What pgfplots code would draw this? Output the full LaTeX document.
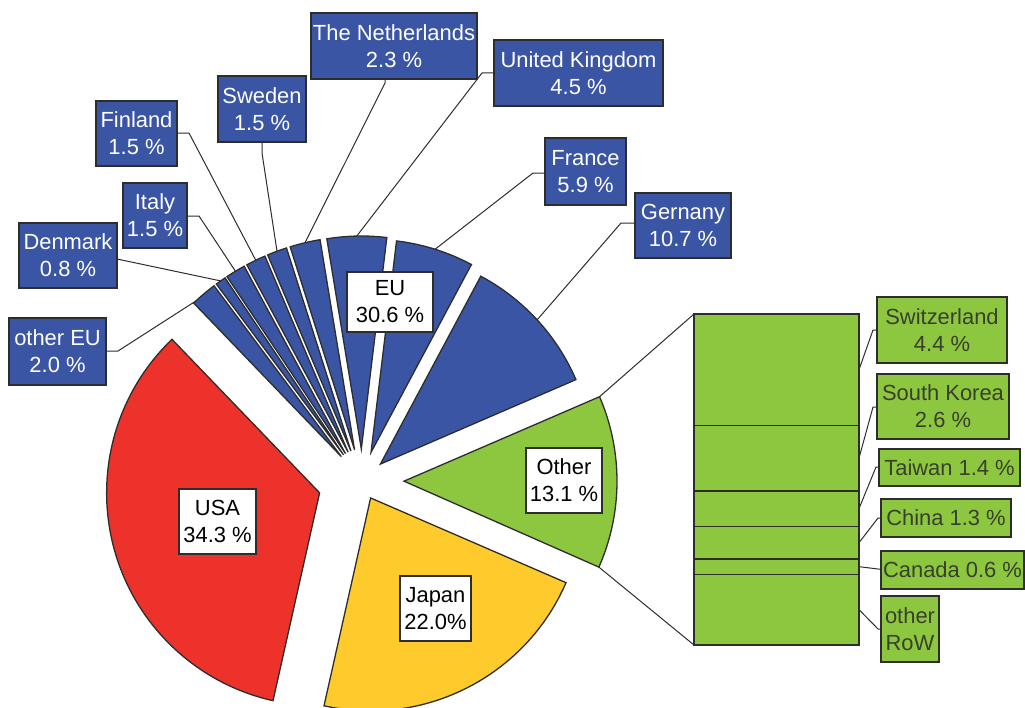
\documentclass[border=0pt]{standalone}
\usepackage{pgfplots}
\pgfplotsset{compat=1.18}
\usepackage{fontspec}
\setmainfont{Liberation Sans}

\definecolor{eublue}{RGB}{58,85,164}
\definecolor{usared}{RGB}{236,50,43}
\definecolor{jpyellow}{RGB}{255,202,44}
\definecolor{othgreen}{RGB}{141,198,63}
\definecolor{edge}{RGB}{45,45,45}
\definecolor{greentext}{RGB}{55,64,45}

% shares in percent
\def\pUSA{34.3}\def\pJapan{22.0}\def\pOther{13.1}
\def\pGer{10.7}\def\pFra{5.9}\def\pUK{4.5}\def\pNL{2.3}\def\pSwe{1.5}
\def\pFin{1.5}\def\pIta{1.5}\def\pDen{0.8}\def\pOEU{2.0}
\def\pSui{4.4}\def\pKor{2.6}\def\pTwn{1.4}\def\pChn{1.3}\def\pCan{0.6}\def\pRoW{2.8}

% pie centre (axis units = pixels), radius
\def\cx{362}\def\cy{481}\def\rr{213}\def\R{106.5bp}

% slice: start angle, end angle, explode, colour
\newcommand\slice[4]{%
  \draw[fill=#4, draw=edge, line width=0.65bp]
    (axis cs:{\cx+#3*cos((#1+#2)/2)},{\cy-#3*sin((#1+#2)/2)})
    -- ++(#1:\R) arc[start angle=#1, end angle=#2, radius=\R] -- cycle;}
% point on the rim of a slice: name, start, end, explode, angle
\newcommand\rim[5]{%
  \coordinate (#1) at (axis cs:{\cx+#4*cos((#2+#3)/2)+\rr*cos(#5)},{\cy-#4*sin((#2+#3)/2)-\rr*sin(#5)});}

\tikzset{
  eulab/.style={draw=edge, line width=0.65bp, fill=eublue, text=white,
    align=center, inner sep=0pt, font=\fontsize{11}{13.5}\selectfont},
  grlab/.style={eulab, fill=othgreen, text=greentext},
  inlab/.style={eulab, fill=white, text=black},
  lead/.style={draw=edge, line width=0.5bp},
}

\begin{document}
\begin{tikzpicture}
\pgfmathsetmacro\aA{-23.8}
\pgfmathsetmacro\aB{\aA+3.6*\pOther}
\pgfmathsetmacro\aC{\aB+3.6*\pGer}
\pgfmathsetmacro\aD{\aC+3.6*\pFra}
\pgfmathsetmacro\aE{\aD+3.6*\pUK}
\pgfmathsetmacro\aF{\aE+3.6*\pNL}
\pgfmathsetmacro\aG{\aF+3.6*\pSwe}
\pgfmathsetmacro\aH{\aG+3.6*\pFin}
\pgfmathsetmacro\aI{\aH+3.6*\pIta}
\pgfmathsetmacro\aJ{\aI+3.6*\pDen}
\pgfmathsetmacro\aK{\aJ+3.6*\pOEU}
\pgfmathsetmacro\aL{\aK+3.6*\pUSA}
\pgfmathsetmacro\aM{\aL+3.6*\pJapan}
% stacked bar for "Other"
\pgfmathsetmacro\k{(645-314)/\pOther}
\pgfmathsetmacro\yA{314}
\pgfmathsetmacro\yB{\yA+\k*\pSui}
\pgfmathsetmacro\yC{\yB+\k*\pKor}
\pgfmathsetmacro\yD{\yC+\k*\pTwn}
\pgfmathsetmacro\yE{\yD+\k*\pChn}
\pgfmathsetmacro\yF{\yE+\k*\pCan}
\pgfmathsetmacro\yG{\yF+\k*\pRoW}
\begin{axis}[
    x=0.5bp, y=0.5bp,
    xmin=0, xmax=1025, ymin=0, ymax=707,
    y dir=reverse,
    enlargelimits=false,
    hide axis,
    xtick=\empty, ytick=\empty,
    clip=false,
  ]
  \addplot[draw=none, forget plot] coordinates {(0,0) (1025,707)};

  % rim points for leaders
  \rim{pGer}{\aB}{\aC}{25}{(\aB+\aC)/2}
  \rim{pFra}{\aC}{\aD}{30}{(\aC+\aD)/2}
  \rim{pUK}{\aD}{\aE}{32}{(\aD+\aE)/2}
  \rim{pNL}{\aE}{\aF}{32}{(\aE+\aF)/2}
  \rim{pSwe}{\aF}{\aG}{32}{(\aF+\aG)/2}
  \rim{pFin}{\aG}{\aH}{32}{(\aG+\aH)/2}
  \rim{pIta}{\aH}{\aI}{32}{(\aH+\aI)/2}
  \rim{pDen}{\aI}{\aJ}{32}{(\aI+\aJ)/2}
  \rim{pOEU}{\aJ}{\aK}{32}{\aK-0.8}
  \rim{oTop}{\aA}{\aB}{42}{\aB}
  \rim{oBot}{\aA}{\aB}{42}{\aA}

  % leaders
  \draw[lead] (axis cs:385,79) -- (axis cs:385,83) -- (pNL);
  \draw[lead] (axis cs:494,73) -- (axis cs:482,73) -- (pUK);
  \draw[lead] (axis cs:262,142) -- (axis cs:262,153) -- (pSwe);
  \draw[lead] (axis cs:177,133) -- (axis cs:189,133) -- (pFin);
  \draw[lead] (axis cs:187,216) -- (axis cs:199,216) -- (pIta);
  \draw[lead] (axis cs:117,259) -- (pDen);
  \draw[lead] (axis cs:106,351) -- (axis cs:118,351) -- (pOEU);
  \draw[lead] (axis cs:545,173) -- (axis cs:533,173) -- (pFra);
  \draw[lead] (axis cs:635,223) -- (axis cs:621,223) -- (pGer);
  \draw[lead] (oTop) -- (axis cs:694,314);
  \draw[lead] (oBot) -- (axis cs:694,645);

  % pie
  \slice{\aA}{\aB}{42}{othgreen}
  \slice{\aB}{\aC}{25}{eublue}
  \slice{\aC}{\aD}{30}{eublue}
  \slice{\aD}{\aE}{32}{eublue}
  \slice{\aE}{\aF}{32}{eublue}
  \slice{\aF}{\aG}{32}{eublue}
  \slice{\aG}{\aH}{32}{eublue}
  \slice{\aH}{\aI}{32}{eublue}
  \slice{\aI}{\aJ}{32}{eublue}
  \slice{\aJ}{\aK}{32}{eublue}
  \slice{\aK}{\aL}{44}{usared}
  \slice{\aL}{\aM}{19}{jpyellow}

  % bar of "Other"
  \draw[fill=othgreen, draw=edge, line width=0.65bp] (axis cs:694,\yA) rectangle (axis cs:859,\yB);
  \draw[fill=othgreen, draw=edge, line width=0.65bp] (axis cs:694,\yB) rectangle (axis cs:859,\yC);
  \draw[fill=othgreen, draw=edge, line width=0.65bp] (axis cs:694,\yC) rectangle (axis cs:859,\yD);
  \draw[fill=othgreen, draw=edge, line width=0.65bp] (axis cs:694,\yD) rectangle (axis cs:859,\yE);
  \draw[fill=othgreen, draw=edge, line width=0.65bp] (axis cs:694,\yE) rectangle (axis cs:859,\yF);
  \draw[fill=othgreen, draw=edge, line width=0.65bp] (axis cs:694,\yF) rectangle (axis cs:859,\yG);

  \draw[lead] (axis cs:859,{(\yA+\yB)/2}) -- (axis cs:873,330) -- (axis cs:877,330);
  \draw[lead] (axis cs:859,{(\yB+\yC)/2}) -- (axis cs:873,407) -- (axis cs:877,407);
  \draw[lead] (axis cs:859,{(\yC+\yD)/2}) -- (axis cs:876,467) -- (axis cs:879,467);
  \draw[lead] (axis cs:859,{(\yD+\yE)/2}) -- (axis cs:878,518) -- (axis cs:881,518);
  \draw[lead] (axis cs:859,{(\yE+\yF)/2}) -- (axis cs:878,569) -- (axis cs:881,569);
  \draw[lead] (axis cs:859,{(\yF+\yG)/2}) -- (axis cs:878,629) -- (axis cs:881,629);

  % EU labels
  \node[eulab, minimum width=83bp, minimum height=33bp] at (axis cs:394,46) {The Netherlands\\2.3 \%};
  \node[eulab, minimum width=84.5bp, minimum height=33bp] at (axis cs:578.5,73) {United Kingdom\\4.5 \%};
  \node[eulab, minimum width=44bp, minimum height=33bp] at (axis cs:262,109) {Sweden\\1.5 \%};
  \node[eulab, minimum width=40.5bp, minimum height=32.5bp] at (axis cs:136.5,133.5) {Finland\\1.5 \%};
  \node[eulab, minimum width=32bp, minimum height=32.5bp] at (axis cs:155,215.5) {Italy\\1.5 \%};
  \node[eulab, minimum width=49bp, minimum height=32.5bp] at (axis cs:68,255.5) {Denmark\\0.8 \%};
  \node[eulab, minimum width=48.5bp, minimum height=33.5bp] at (axis cs:57.5,351.5) {other EU\\2.0 \%};
  \node[eulab, minimum width=40.5bp, minimum height=33.5bp] at (axis cs:585.5,171.5) {France\\5.9 \%};
  \node[eulab, minimum width=48bp, minimum height=32.5bp] at (axis cs:683,225.5) {Gernany\\10.7 \%};

  % Other labels
  \node[grlab, minimum width=65bp, minimum height=33bp] at (axis cs:942,330) {Switzerland\\4.4 \%};
  \node[grlab, minimum width=66bp, minimum height=32.5bp] at (axis cs:943,406.5) {South Korea\\2.6 \%};
  \node[grlab, minimum width=70.5bp, minimum height=18.5bp] at (axis cs:949.5,467.5) {Taiwan 1.4 \%};
  \node[grlab, minimum width=65bp, minimum height=19bp] at (axis cs:946,518) {China 1.3 \%};
  \node[grlab, minimum width=71.5bp, minimum height=19bp] at (axis cs:952.5,570) {Canada 0.6 \%};
  \node[grlab, minimum width=29bp, minimum height=33bp] at (axis cs:910,629) {other\\RoW};

  % inner labels
  \node[inlab, minimum width=43bp, minimum height=30bp] at (axis cs:390,302) {EU\\30.6 \%};
  \node[inlab, minimum width=38.5bp, minimum height=32.5bp] at (axis cs:217.5,521.5) {USA\\34.3 \%};
  \node[inlab, minimum width=35.5bp, minimum height=32.5bp] at (axis cs:435.5,608.5) {Japan\\22.0\%};
  \node[inlab, minimum width=38bp, minimum height=32.5bp] at (axis cs:564,480.5) {Other\\13.1 \%};
\end{axis}
\pgfresetboundingbox
\path[use as bounding box] (current axis.south west) rectangle (current axis.north east);
\end{tikzpicture}
\end{document}
